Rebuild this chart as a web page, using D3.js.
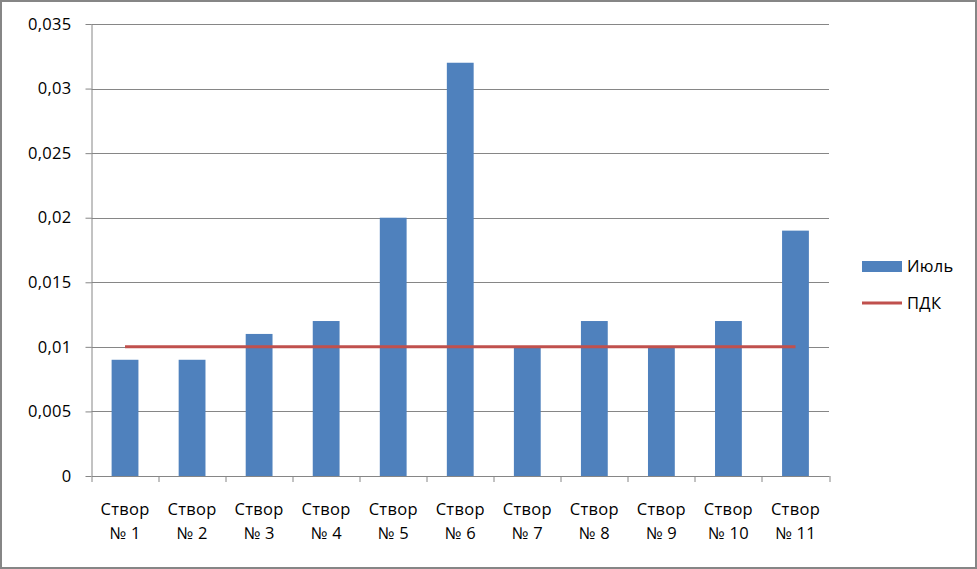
<!DOCTYPE html>
<head>
<meta charset="utf-8">
<script src="https://d3js.org/d3.v7.min.js"></script>
</head>
<style>
body { margin: 0; }
text { font-family: "Open Sans", "Liberation Sans", sans-serif; font-size: 16.5px; letter-spacing: 0.3px; fill: #000; }
</style>
<body>
<script>
var categories = ["Створ № 1", "Створ № 2", "Створ № 3", "Створ № 4", "Створ № 5", "Створ № 6",
                  "Створ № 7", "Створ № 8", "Створ № 9", "Створ № 10", "Створ № 11"];
var july = [0.009, 0.009, 0.011, 0.012, 0.02, 0.032, 0.01, 0.012, 0.01, 0.012, 0.019];
var pdk = [0.01, 0.01, 0.01, 0.01, 0.01, 0.01, 0.01, 0.01, 0.01, 0.01, 0.01];
var yTicks = [0, 0.005, 0.01, 0.015, 0.02, 0.025, 0.03, 0.035];
var seriesNames = ["Июль", "ПДК"];

var W = 977, H = 569;
var margin = {top: 24, left: 91.5, right: W - 829, bottom: H - 476};
var width = W - margin.left - margin.right,
    height = H - margin.top - margin.bottom;

var svg = d3.select("body").append("svg")
    .attr("width", W)
    .attr("height", H);

svg.append("rect")
    .attr("x", 1).attr("y", 1)
    .attr("width", W - 2).attr("height", H - 2)
    .attr("fill", "#fff")
    .attr("stroke", "#868686")
    .attr("stroke-width", 2);

var g = svg.append("g")
    .attr("transform", "translate(" + margin.left + "," + margin.top + ")");

var x = d3.scaleBand().domain(categories).range([0, width]).paddingInner(0.6).paddingOuter(0.3);
var xc = d3.scaleBand().domain(categories).range([0, width]);
var y = d3.scaleLinear().domain([0, 0.035]).range([height, 0]);

// gridlines
g.append("g").selectAll("line")
  .data(yTicks.slice(1))
  .enter().append("line")
    .attr("x1", 0).attr("x2", width)
    .attr("y1", function(d) { return Math.round(y(d)) + 0.5; })
    .attr("y2", function(d) { return Math.round(y(d)) + 0.5; })
    .attr("stroke", "#868686");

// bars
g.append("g").selectAll("rect")
  .data(july)
  .enter().append("rect")
    .attr("x", function(d, i) { return x(categories[i]); })
    .attr("width", x.bandwidth())
    .attr("y", function(d) { return y(d); })
    .attr("height", function(d) { return height - y(d); })
    .attr("fill", "#4F81BD");

// y axis
var yAxis = g.append("g")
    .call(d3.axisLeft(y).tickValues(yTicks).tickSize(6).tickPadding(14)
      .tickFormat(function(d) { return String(d).replace(".", ","); }));
yAxis.select(".domain").attr("stroke", "#868686").attr("d", "M0.5,0V" + height);
yAxis.selectAll(".tick line").attr("stroke", "#868686");
yAxis.selectAll("text").style("font-size", null).style("font-family", null).attr("font-size", null).attr("font-family", null);
yAxis.attr("font-size", null).attr("font-family", null);

// x axis
var xAxis = g.append("g")
    .attr("transform", "translate(0," + height + ")")
    .call(d3.axisBottom(xc).tickValues([]).tickSizeOuter(0));
xAxis.select(".domain").attr("stroke", "#868686");
xAxis.attr("font-size", null).attr("font-family", null);
xAxis.selectAll(".sep")
  .data(d3.range(categories.length + 1))
  .enter().append("line")
    .attr("class", "sep")
    .attr("x1", function(i) { return Math.round(i * xc.step()) + 0.5; })
    .attr("x2", function(i) { return Math.round(i * xc.step()) + 0.5; })
    .attr("y1", 0).attr("y2", 6)
    .attr("stroke", "#868686");

var lab = xAxis.selectAll(".lab")
  .data(categories)
  .enter().append("text")
    .attr("class", "lab")
    .attr("text-anchor", "middle")
    .attr("transform", function(d) { return "translate(" + (xc(d) + xc.bandwidth() / 2) + ",0)"; });
lab.append("tspan").attr("x", 0).attr("y", 39).text(function(d) { return d.split(" № ")[0]; });
lab.append("tspan").attr("x", 0).attr("y", 63).text(function(d) { return "№ " + d.split(" № ")[1]; });

// ПДК line
var line = d3.line()
    .x(function(d, i) { return xc(categories[i]) + xc.bandwidth() / 2; })
    .y(function(d) { return y(d); });
g.append("path")
    .datum(pdk)
    .attr("d", line)
    .attr("fill", "none")
    .attr("stroke", "#C0504D")
    .attr("stroke-width", 3);

// legend
var leg = svg.append("g").attr("transform", "translate(862,0)");
leg.append("rect").attr("x", 0).attr("y", 261).attr("width", 40).attr("height", 11).attr("fill", "#4F81BD");
leg.append("text").attr("x", 45).attr("y", 272).text(seriesNames[0]);
leg.append("line").attr("x1", 0).attr("x2", 40).attr("y1", 303).attr("y2", 303)
    .attr("stroke", "#C0504D").attr("stroke-width", 3);
leg.append("text").attr("x", 45).attr("y", 309).text(seriesNames[1]);
</script>
</body>
